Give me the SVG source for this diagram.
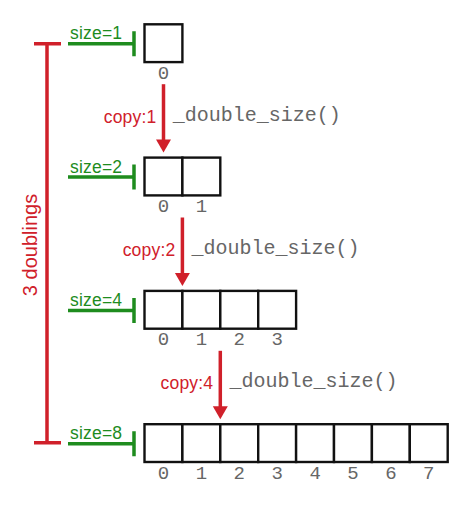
<svg xmlns="http://www.w3.org/2000/svg" width="467" height="505" viewBox="0 0 467 505">
<style>
.cell{fill:#fff;stroke:#111;stroke-width:2.4}
.idx{font-family:"Liberation Mono","Courier New",monospace;font-size:19px;fill:#666;text-anchor:middle}
.fn{font-family:"Liberation Mono","Courier New",monospace;font-size:20px;fill:#666}
.copy{font-family:"Liberation Sans",Arial,sans-serif;font-size:17.5px;letter-spacing:0.2px;fill:#d0202a;text-anchor:end}
.size{font-family:"Liberation Sans",Arial,sans-serif;font-size:17.5px;letter-spacing:0.2px;fill:#1e8c1e}
.gl{stroke:#1e8c1e;stroke-width:3.5;fill:none}
.rl{stroke:#d0202a;stroke-width:3.5;fill:none}
.ah{fill:#d0202a}
.dbl{font-family:"Liberation Sans",Arial,sans-serif;font-size:20px;fill:#d0202a;text-anchor:middle}
</style>
<rect width="467" height="505" fill="#fff"/>
<g id="bracket">
<path class="rl" d="M47 43.8V442.8M34 43.8H61M34 442.8H61"/>
<text class="dbl" transform="translate(37,245) rotate(-90)">3 doublings</text>
</g>
<g id="array1">
<rect class="cell" x="144.5" y="24.3" width="37.9" height="37.8"/>
<text class="idx" x="163.5" y="78.8">0</text>
</g>
<g id="array2">
<rect class="cell" x="144.5" y="157.6" width="37.9" height="37.8"/>
<rect class="cell" x="182.4" y="157.6" width="37.9" height="37.8"/>
<text class="idx" x="163.5" y="212.1">0</text>
<text class="idx" x="201.4" y="212.1">1</text>
</g>
<g id="array4">
<rect class="cell" x="144.5" y="290.9" width="37.9" height="37.8"/>
<rect class="cell" x="182.4" y="290.9" width="37.9" height="37.8"/>
<rect class="cell" x="220.3" y="290.9" width="37.9" height="37.8"/>
<rect class="cell" x="258.2" y="290.9" width="37.9" height="37.8"/>
<text class="idx" x="163.5" y="345.4">0</text>
<text class="idx" x="201.4" y="345.4">1</text>
<text class="idx" x="239.3" y="345.4">2</text>
<text class="idx" x="277.2" y="345.4">3</text>
</g>
<g id="array8">
<rect class="cell" x="144.5" y="424.2" width="37.9" height="37.8"/>
<rect class="cell" x="182.4" y="424.2" width="37.9" height="37.8"/>
<rect class="cell" x="220.3" y="424.2" width="37.9" height="37.8"/>
<rect class="cell" x="258.2" y="424.2" width="37.9" height="37.8"/>
<rect class="cell" x="296.1" y="424.2" width="37.9" height="37.8"/>
<rect class="cell" x="334.0" y="424.2" width="37.9" height="37.8"/>
<rect class="cell" x="371.9" y="424.2" width="37.9" height="37.8"/>
<rect class="cell" x="409.8" y="424.2" width="37.9" height="37.8"/>
<text class="idx" x="163.5" y="478.7">0</text>
<text class="idx" x="201.4" y="478.7">1</text>
<text class="idx" x="239.3" y="478.7">2</text>
<text class="idx" x="277.2" y="478.7">3</text>
<text class="idx" x="315.1" y="478.7">4</text>
<text class="idx" x="353.0" y="478.7">5</text>
<text class="idx" x="390.9" y="478.7">6</text>
<text class="idx" x="428.8" y="478.7">7</text>
</g>
<g id="sizes">
<path class="gl" d="M68 43.8H134M134 31.3V56.3"/>
<text class="size" x="70" y="39.3">size=1</text>
<path class="gl" d="M68 177.1H134M134 164.6V189.6"/>
<text class="size" x="70" y="172.6">size=2</text>
<path class="gl" d="M68 310.4H134M134 297.9V322.9"/>
<text class="size" x="70" y="305.9">size=4</text>
<path class="gl" d="M68 443.7H134M134 431.2V456.2"/>
<text class="size" x="70" y="439.2">size=8</text>
</g>
<g id="connectors">
<path class="rl" d="M163.5 84.2V141"/>
<polygon class="ah" points="156,139.6 171,139.6 163.5,152.6"/>
<text class="copy" x="156.5" y="122.8">copy:1</text>
<text class="fn" x="172.7" y="120.8">_double_size()</text>
<path class="rl" d="M182.4 217.5V274.3"/>
<polygon class="ah" points="174.9,272.9 189.9,272.9 182.4,285.9"/>
<text class="copy" x="175.4" y="256.1">copy:2</text>
<text class="fn" x="191.6" y="254.1">_double_size()</text>
<path class="rl" d="M220.3 350.8V407.6"/>
<polygon class="ah" points="212.8,406.2 227.8,406.2 220.3,419.2"/>
<text class="copy" x="213.3" y="389.4">copy:4</text>
<text class="fn" x="229.5" y="387.4">_double_size()</text>
</g>
</svg>
